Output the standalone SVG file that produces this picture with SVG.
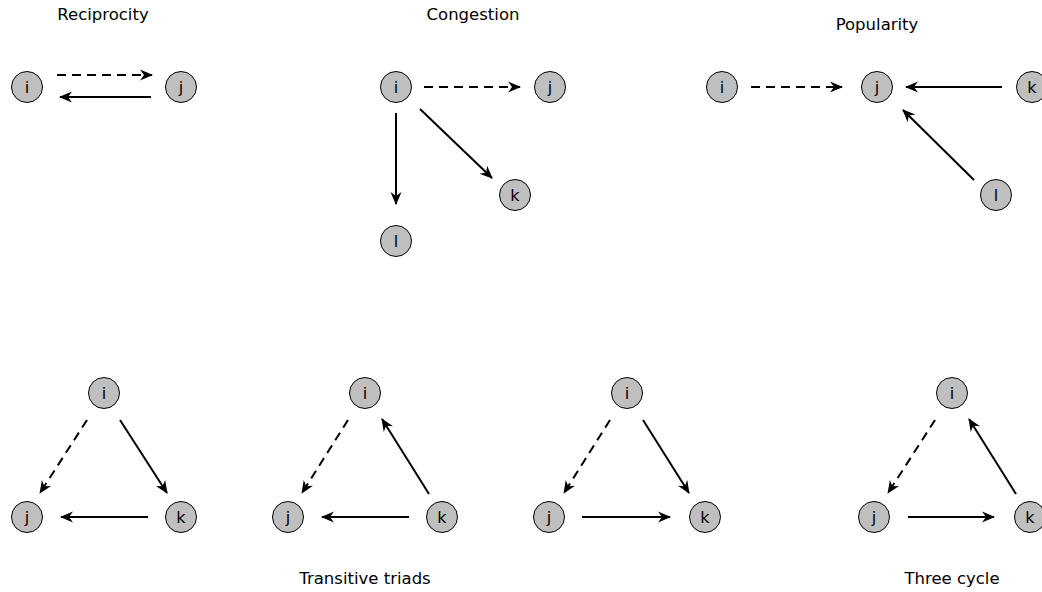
<svg xmlns="http://www.w3.org/2000/svg" width="1042" height="592" viewBox="0 0 1042 592">
<defs>
<marker id="ah" markerUnits="userSpaceOnUse" markerWidth="16" markerHeight="12" refX="0" refY="0" viewBox="-14 -6 16 12" orient="auto" overflow="visible">
<path d="M1,0 L-12,-5.5 L-8,0 L-12,5.5 Z" fill="#000"/>
</marker>
</defs>
<style>
.n circle{fill:#bfbfbf;stroke:#000;stroke-width:1}
.n text{font-family:"DejaVu Sans",sans-serif;font-size:16px;text-anchor:middle;fill:#000}
.t{font-family:"DejaVu Sans",sans-serif;font-size:16.5px;text-anchor:middle;fill:#000}
.e{stroke:#000;stroke-width:2;fill:none;marker-end:url(#ah)}
.d{stroke-dasharray:9,6}
</style>
<rect width="1042" height="592" fill="#fff"/>
<g id="titles">
<text class="t" x="103" y="20">Reciprocity</text>
<text class="t" x="473" y="20">Congestion</text>
<text class="t" x="877" y="30">Popularity</text>
<text class="t" x="365" y="584">Transitive triads</text>
<text class="t" x="952" y="584">Three cycle</text>
</g>
<g id="connectors">
<line class="e d" x1="57" y1="75" x2="152" y2="75"/>
<line class="e" x1="151" y1="97" x2="60" y2="97"/>
<line class="e d" x1="424" y1="87" x2="520" y2="87"/>
<line class="e" x1="396" y1="113" x2="396" y2="204"/>
<line class="e" x1="420" y1="109" x2="492" y2="178"/>
<line class="e d" x1="751" y1="87" x2="842" y2="87"/>
<line class="e" x1="1002" y1="87" x2="906" y2="87"/>
<line class="e" x1="974" y1="180" x2="903" y2="110"/>
<line class="e d" x1="87" y1="420" x2="40" y2="493"/>
<line class="e" x1="120" y1="420" x2="167" y2="493"/>
<line class="e" x1="148" y1="517" x2="61" y2="517"/>
<line class="e d" x1="348" y1="420" x2="302" y2="493"/>
<line class="e" x1="429" y1="494" x2="382" y2="419"/>
<line class="e" x1="409" y1="517" x2="322" y2="517"/>
<line class="e d" x1="610" y1="420" x2="564" y2="493"/>
<line class="e" x1="643" y1="420" x2="689" y2="493"/>
<line class="e" x1="582" y1="517" x2="670" y2="517"/>
<line class="e d" x1="935" y1="420" x2="888" y2="493"/>
<line class="e" x1="1016" y1="494" x2="969" y2="419"/>
<line class="e" x1="908" y1="517" x2="994" y2="517"/>
</g>
<g id="rec-i" class="n"><circle cx="27" cy="87" r="15.5"/><text x="27" y="93">i</text></g>
<g id="rec-j" class="n"><circle cx="181" cy="87" r="15.5"/><text x="181" y="93">j</text></g>
<g id="con-i" class="n"><circle cx="396" cy="87" r="15.5"/><text x="396" y="93">i</text></g>
<g id="con-j" class="n"><circle cx="550" cy="87" r="15.5"/><text x="550" y="93">j</text></g>
<g id="con-k" class="n"><circle cx="515" cy="195" r="15.5"/><text x="515" y="201">k</text></g>
<g id="con-l" class="n"><circle cx="396" cy="241" r="15.5"/><text x="396" y="247">l</text></g>
<g id="pop-i" class="n"><circle cx="722" cy="87" r="15.5"/><text x="722" y="93">i</text></g>
<g id="pop-j" class="n"><circle cx="877" cy="87" r="15.5"/><text x="877" y="93">j</text></g>
<g id="pop-k" class="n"><circle cx="1032" cy="87" r="15.5"/><text x="1032" y="93">k</text></g>
<g id="pop-l" class="n"><circle cx="996" cy="195" r="15.5"/><text x="996" y="201">l</text></g>
<g id="t1-i" class="n"><circle cx="104" cy="393" r="15.5"/><text x="104" y="399">i</text></g>
<g id="t1-j" class="n"><circle cx="27" cy="517" r="15.5"/><text x="27" y="523">j</text></g>
<g id="t1-k" class="n"><circle cx="181" cy="517" r="15.5"/><text x="181" y="523">k</text></g>
<g id="t2-i" class="n"><circle cx="365" cy="393" r="15.5"/><text x="365" y="399">i</text></g>
<g id="t2-j" class="n"><circle cx="288" cy="517" r="15.5"/><text x="288" y="523">j</text></g>
<g id="t2-k" class="n"><circle cx="442" cy="517" r="15.5"/><text x="442" y="523">k</text></g>
<g id="t3-i" class="n"><circle cx="627" cy="393" r="15.5"/><text x="627" y="399">i</text></g>
<g id="t3-j" class="n"><circle cx="549" cy="517" r="15.5"/><text x="549" y="523">j</text></g>
<g id="t3-k" class="n"><circle cx="705" cy="517" r="15.5"/><text x="705" y="523">k</text></g>
<g id="c-i" class="n"><circle cx="952" cy="393" r="15.5"/><text x="952" y="399">i</text></g>
<g id="c-j" class="n"><circle cx="874" cy="517" r="15.5"/><text x="874" y="523">j</text></g>
<g id="c-k" class="n"><circle cx="1030" cy="517" r="15.5"/><text x="1030" y="523">k</text></g>
</svg>
